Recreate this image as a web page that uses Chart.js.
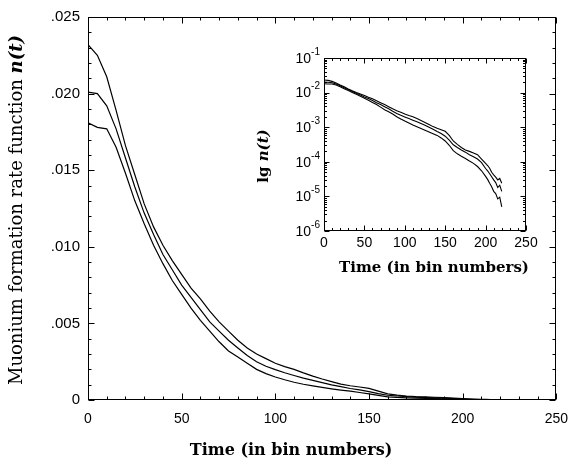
<!DOCTYPE html>
<html><head><meta charset="utf-8">
<script src="https://cdn.jsdelivr.net/npm/chart.js@4.4.0/dist/chart.umd.min.js"></script>
<style>
html,body{margin:0;padding:0;background:#fff;}
#wrap{position:relative;width:579px;height:469px;overflow:hidden;}
#main{position:absolute;left:0;top:0;width:579px;height:469px;}
#inset{position:absolute;left:240px;top:40px;width:330px;height:250px;}
</style></head><body>
<div id="wrap">
<canvas id="main" width="579" height="469"></canvas>
<canvas id="inset" width="330" height="250"></canvas>
</div>
<script>
// time in bin numbers
const times = [0,5,10,15,20,25,30,35,40,45,50,55,60,65,70,75,80,85,90,95,100,105,110,115,120,125,130,135,140,145,150,155,160,165,170,175,180,185,190,195,200,202.5,205,207.5,210,212.5,215,217.5,220];
// upper curve
const seriesA = [.0232,.0225,.0211,.0189,.0166,.0147,.0128,.0113,.0101,.0091,.0082,.0073,.0066,.0058,.0051,.0045,.0039,.0034,.0030,.0027,.0024,.00218,.0020,.00177,.00156,.00137,.00120,.00104,.00093,.00085,.00076,.00058,.00040,.00032,.00026,.00022,.00020,.00018,.00016,.00012,.000090,.000078,.000065,.000050,.000042,.000036,.000030,.000033,.000024];
// middle curve
const seriesB = [.0201,.0200,.0192,.0177,.0158,.0139,.0122,.0108,.0095,.0085,.0075,.0067,.0059,.0051,.0045,.0039,.0034,.0029,.0025,.0022,.00198,.00178,.00160,.00143,.00128,.00113,.00099,.00087,.00075,.00066,.00055,.00042,.00031,.00026,.00022,.00019,.00016,.00014,.00012,.000095,.000064,.000055,.000045,.000037,.000030,.000025,.000018,.000021,.000014];
// lower curve
const seriesC = [.0181,.0178,.0177,.0165,.0148,.0130,.0115,.0101,.0089,.0078,.0069,.0060,.0052,.0045,.0038,.0032,.0028,.0024,.0020,.00172,.0015,.00132,.00116,.00103,.00092,.00082,.00073,.00065,.00058,.00049,.00040,.00030,.00021,.00017,.000145,.000125,.000105,.000090,.000073,.000055,.000038,.000031,.000024,.000019,.000014,.000012,.0000085,.0000095,.0000050];

const mainXTickLabels = ['0','50','100','150','200','250'];
const mainYTickLabels = ['0','.005','.010','.015','.020','.025'];
const insetXTickLabels = ['0','50','100','150','200','250'];
const insetYExponents = [-6,-5,-4,-3,-2,-1];

const mainXTitle = 'Time (in bin numbers)';
const mainYTitle = 'Muonium formation rate function ';
const mainYTitleMath = 'n(t)';
const insetXTitle = 'Time (in bin numbers)';
const insetYTitle = 'lg ';
const insetYTitleMath = 'n(t)';

function toPoints(vals){ return times.map((t,i)=>({x:t,y:vals[i]})); }
function makeDatasets(w){
  return [seriesA,seriesB,seriesC].map(v=>({data:toPoints(v),borderColor:'#000',borderWidth:w,pointRadius:0,fill:false,tension:0}));
}

function drawFrameAndTicks(chart, xStep, xMajor, xMax, yTicks, majorLen, minorLen){
  const {ctx, chartArea:a, scales:{x}} = chart;
  ctx.save();
  ctx.strokeStyle='#000'; ctx.lineWidth=1;
  const L=Math.round(a.left)+0.5, R=Math.round(a.right)-0.5, T=Math.round(a.top)+0.5, B=Math.round(a.bottom)-0.5;
  ctx.strokeRect(L,T,R-L,B-T);
  ctx.beginPath();
  for(let t=0;t<=xMax;t+=xStep){
    const px=Math.round(x.getPixelForValue(t))+0.5;
    const len=(t%xMajor===0)?majorLen:minorLen;
    ctx.moveTo(px,B); ctx.lineTo(px,B-len);
    ctx.moveTo(px,T); ctx.lineTo(px,T+len);
  }
  yTicks.forEach(([py,major])=>{
    const p=Math.round(py)+0.5, len=major?majorLen:minorLen;
    ctx.moveTo(L,p); ctx.lineTo(L+len,p);
    ctx.moveTo(R,p); ctx.lineTo(R-len,p);
  });
  ctx.stroke();
  ctx.restore();
}

function drawRotatedTitle(ctx, cx, cy, plain, plainFont, math, mathFont){
  ctx.save();
  ctx.translate(cx,cy); ctx.rotate(-Math.PI/2);
  ctx.fillStyle='#000'; ctx.textBaseline='middle'; ctx.textAlign='left';
  ctx.font=plainFont; const w1=ctx.measureText(plain).width;
  ctx.font=mathFont; const w2=ctx.measureText(math).width;
  const start=-(w1+w2)/2;
  ctx.font=plainFont; ctx.fillText(plain,start,0);
  ctx.font=mathFont; ctx.fillText(math,start+w1,0);
  ctx.restore();
}

const mainDeco = {
  id:'mainDeco',
  afterDraw(chart){
    const {ctx, scales:{y}} = chart;
    const yt=[];
    for(let k=0;k<=25;k++){ yt.push([y.getPixelForValue(k/1000), k%5===0]); }
    drawFrameAndTicks(chart,10,50,250,yt,6,3);
    ctx.save();
    ctx.fillStyle='#000';
    ctx.font='bold 16px "DejaVu Serif"'; ctx.textAlign='center'; ctx.textBaseline='middle';
    ctx.fillText(mainXTitle,291,451);
    ctx.restore();
    drawRotatedTitle(ctx,17,210,mainYTitle,'18px "DejaVu Serif"',mainYTitleMath,'bold italic 18px "DejaVu Serif"');
  }
};

new Chart(document.getElementById('main'),{
  type:'line',
  data:{datasets:makeDatasets(1.2)},
  options:{
    responsive:false, animation:false, devicePixelRatio:1,
    layout:{padding:{left:0,top:9,right:13,bottom:0}},
    plugins:{legend:{display:false},tooltip:{enabled:false}},
    scales:{
      x:{type:'linear',min:0,max:250,
         grid:{display:false,drawTicks:false},border:{display:false},
         ticks:{stepSize:50,padding:11,color:'#000',maxRotation:0,autoSkip:false,
                font:{family:'"Liberation Sans", Arial, sans-serif',size:14},
                callback:(v,i)=>mainXTickLabels[i]},
         afterFit:s=>{s.height=69;}},
      y:{type:'linear',min:0,max:0.025,
         grid:{display:false,drawTicks:false},border:{display:false},
         ticks:{stepSize:0.005,padding:8,color:'#000',autoSkip:false,
                font:{family:'"Liberation Sans", Arial, sans-serif',size:15},
                callback:(v,i)=>mainYTickLabels[i]},
         afterFit:s=>{s.width=88;}}
    }
  },
  plugins:[mainDeco]
});

const insetDeco = {
  id:'insetDeco',
  afterDraw(chart){
    const {ctx, chartArea:a, scales:{y}} = chart;
    const yt=[];
    insetYExponents.forEach((e,i)=>{
      yt.push([y.getPixelForValue(Math.pow(10,e)),true]);
      if(i<insetYExponents.length-1){
        for(let m=2;m<=9;m++) yt.push([y.getPixelForValue(m*Math.pow(10,e)),false]);
      }
    });
    drawFrameAndTicks(chart,10,50,250,yt,5,2.5);
    ctx.save();
    ctx.fillStyle='#000';
    insetYExponents.forEach(e=>{
      const py=y.getPixelForValue(Math.pow(10,e));
      const expTxt=String(e);
      ctx.textBaseline='middle';
      ctx.font='10px "Liberation Sans", Arial, sans-serif';
      const we=ctx.measureText(expTxt).width;
      ctx.font='14px "Liberation Sans", Arial, sans-serif';
      const wb=ctx.measureText('10').width;
      const right=a.left-4;
      ctx.textAlign='left';
      ctx.fillText('10',right-we-wb,py+1);
      ctx.font='10px "Liberation Sans", Arial, sans-serif';
      ctx.fillText(expTxt,right-we,py-6);
    });
    ctx.font='bold 15px "DejaVu Serif"'; ctx.textAlign='center'; ctx.textBaseline='middle';
    ctx.fillText(insetXTitle,194,228);
    ctx.restore();
    drawRotatedTitle(ctx,24,116,insetYTitle,'bold 15px "DejaVu Serif"',insetYTitleMath,'bold italic 15px "DejaVu Serif"');
  }
};

new Chart(document.getElementById('inset'),{
  type:'line',
  data:{datasets:makeDatasets(1.1)},
  options:{
    responsive:false, animation:false, devicePixelRatio:1,
    layout:{padding:{left:84,top:18,right:44,bottom:0}},
    plugins:{legend:{display:false},tooltip:{enabled:false}},
    scales:{
      x:{type:'linear',min:0,max:250,
         grid:{display:false,drawTicks:false},border:{display:false},
         ticks:{stepSize:50,padding:4,color:'#000',maxRotation:0,autoSkip:false,
                font:{family:'"Liberation Sans", Arial, sans-serif',size:14},
                callback:(v,i)=>insetXTickLabels[i]},
         afterFit:s=>{s.height=59;}},
      y:{type:'logarithmic',min:1e-6,max:1e-1,display:false}
    }
  },
  plugins:[insetDeco]
});
</script>
</body></html>
